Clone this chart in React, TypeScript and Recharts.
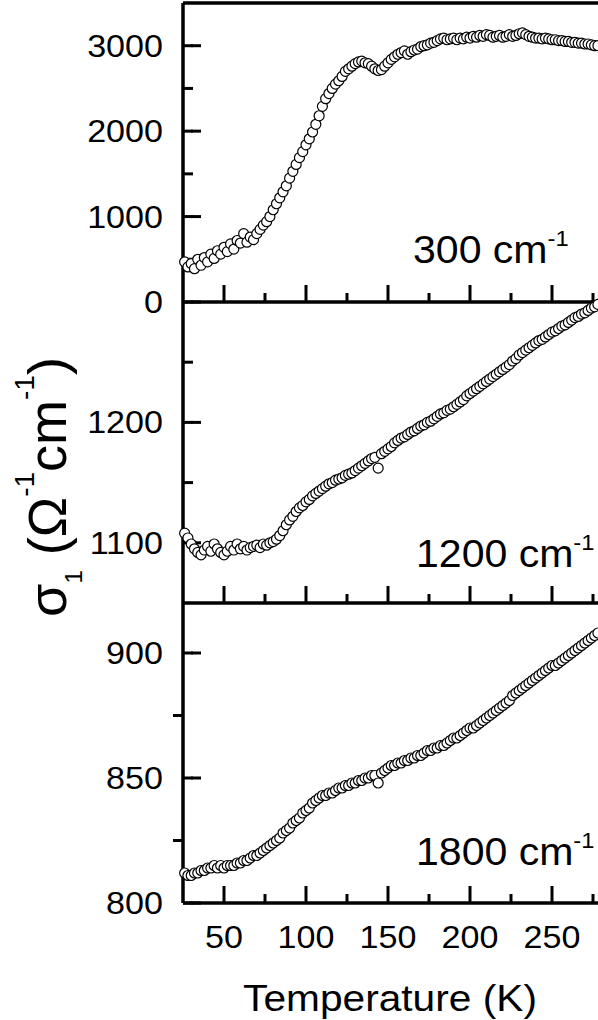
import React from 'react';
import { ScatterChart, Scatter, XAxis, YAxis, ReferenceLine } from 'recharts';

// temperature grid (K) shared by the three frequencies
const temps = [
  26, 28, 30, 32, 34, 36, 38, 40, 42, 44,
  46, 48, 50, 52, 54, 56, 58, 60, 62, 64,
  66, 68, 70, 72, 74, 76, 78, 80, 82, 84,
  86, 88, 90, 92, 94, 96, 98, 100, 102, 104,
  106, 108, 110, 112, 114, 116, 118, 120, 122, 124,
  126, 128, 130, 132, 134, 136, 138, 140, 142, 144,
  146, 148, 150, 152, 154, 156, 158, 160, 162, 164,
  166, 168, 170, 172, 174, 176, 178, 180, 182, 184,
  186, 188, 190, 192, 194, 196, 198, 200, 202, 204,
  206, 208, 210, 212, 214, 216, 218, 220, 222, 224,
  226, 228, 230, 232, 234, 236, 238, 240, 242, 244,
  246, 248, 250, 252, 254, 256, 258, 260, 262, 264,
  266, 268, 270, 272, 274, 276, 278,
];

// sigma_1 at 300 cm-1
const sigma300 = [
  470, 410, 450, 390, 500, 430, 520, 470, 560, 510,
  600, 560, 640, 590, 680, 620, 720, 690, 800, 700,
  760, 730, 800, 850, 900, 940, 1000, 1080, 1150, 1220,
  1290, 1360, 1450, 1530, 1610, 1690, 1760, 1840, 1910, 1990,
  2080, 2180, 2290, 2380, 2440, 2500, 2550, 2590, 2640, 2700,
  2730, 2760, 2790, 2810, 2820, 2800, 2790, 2760, 2730, 2710,
  2720, 2760, 2800, 2840, 2870, 2900, 2920, 2940, 2900, 2930,
  2950, 2960, 2990, 3000, 3010, 3030, 3040, 3060, 3080, 3090,
  3070, 3080, 3090, 3070, 3090, 3080, 3100, 3090, 3110, 3100,
  3120, 3110, 3130, 3120, 3100, 3110, 3120, 3100, 3110, 3130,
  3110, 3120, 3140, 3150, 3130, 3110, 3100, 3090, 3090, 3080,
  3090, 3080, 3070, 3070, 3060, 3060, 3050, 3050, 3040, 3040,
  3030, 3030, 3020, 3020, 3010, 3000, 3000,
];

// sigma_1 at 1200 cm-1
const sigma1200 = [
  1108, 1104, 1099, 1095, 1092, 1090, 1094, 1097, 1093, 1099,
  1095, 1092, 1090, 1093, 1097, 1094, 1099, 1095, 1097, 1094,
  1096, 1097, 1098, 1096, 1099, 1098, 1100, 1101, 1103, 1106,
  1110, 1115, 1119, 1122, 1126, 1129, 1131, 1134, 1136, 1139,
  1141, 1143, 1145, 1147, 1149, 1150, 1152, 1153, 1154, 1156,
  1157, 1158, 1160, 1162, 1164, 1166, 1168, 1170, 1171, 1162,
  1174, 1176, 1178, 1180, 1183, 1185, 1187, 1188, 1190, 1192,
  1193, 1195, 1197, 1198, 1200, 1201, 1203, 1205, 1207, 1208,
  1210, 1211, 1213, 1215, 1217, 1219, 1222, 1224, 1226, 1228,
  1230, 1232, 1234, 1236, 1238, 1240, 1242, 1244, 1246, 1248,
  1251, 1253, 1256, 1258, 1260, 1262, 1264, 1266, 1268, 1269,
  1271, 1273, 1275, 1276, 1278, 1280, 1281, 1283, 1285, 1287,
  1288, 1290, 1291, 1293, 1295, 1296, 1298,
];

// sigma_1 at 1800 cm-1
const sigma1800 = [
  812, 811, 811, 812, 812, 813, 813, 814, 814, 815,
  814, 815, 814, 815, 815, 815, 816, 816, 817, 817,
  818, 819, 819, 820, 821, 822, 823, 824, 825, 826,
  828, 829, 830, 832, 833, 834, 836, 837, 838, 840,
  841, 842, 843, 843, 844, 844, 845, 846, 846, 847,
  847, 848, 848, 849, 849, 850, 850, 851, 851, 848,
  852, 853, 854, 855, 855, 856, 856, 857, 857, 858,
  858, 859, 859, 860, 861, 861, 862, 862, 863, 863,
  864, 865, 866, 866, 867, 868, 869, 870, 870, 871,
  872, 873, 874, 875, 876, 877, 878, 879, 880, 881,
  883, 884, 885, 886, 887, 888, 889, 890, 891, 892,
  893, 894, 895, 895, 896, 897, 898, 899, 900, 901,
  902, 903, 904, 905, 906, 907, 908,
];

const tempMajor = [50, 100, 150, 200, 250];
const tempMinor = [75, 125, 175, 225, 275];

const major300 = [0, 1000, 2000, 3000];
const minor300 = [500, 1500, 2500];
const major1200 = [1100, 1200];
const minor1200 = [1150, 1250];
const major1800 = [800, 850, 900];
const minor1800 = [825, 875];

const FONT = '"Liberation Sans", Arial, Helvetica, sans-serif';
const STRETCH = 1.1; // the original figure is a bit wider than tall
const AXIS_W = 183;
const RIGHT_M = 26;
const CHART_W = 660;
const PLOT_W = CHART_W - AXIS_W - RIGHT_M;
const LINE_W = 3.5;
const TICK_W = 3;
const T_DOMAIN: [number, number] = [25, 300];

const toPoints = (values: number[]) => temps.map((t, i) => ({ t, v: values[i] }));

// tick-label content for a reference-line tick; vb is the segment's box
const xLabel = (value: number) => ({
  content: (p: any) => {
    const vb = p.viewBox || {};
    return (
      <g transform={`translate(${vb.x},${vb.y + vb.height + 45}) scale(${STRETCH},1)`}>
        <text x={0} y={0} textAnchor="middle" fontSize={31} fontFamily={FONT} fill="#000">
          {value}
        </text>
      </g>
    );
  },
});

const yLabel = (value: number) => ({
  content: (p: any) => {
    const vb = p.viewBox || {};
    return (
      <g transform={`translate(${vb.x - 20},${vb.y + 11}) scale(${STRETCH},1)`}>
        <text x={0} y={0} textAnchor="end" fontSize={31} fontFamily={FONT} fill="#000">
          {value}
        </text>
      </g>
    );
  },
});

const OpenCircle = (props: any) => {
  const { cx, cy } = props;
  if (cx == null || cy == null) return null;
  return <circle cx={cx} cy={cy} r={5} fill="#fff" stroke="#000" strokeWidth={1.2} />;
};

interface PanelProps {
  values: number[];
  domain: [number, number];
  major: number[];
  minor: number[];
  top: number;
  plotH: number;
  bottomAxis: boolean;
  minorOut?: boolean;
  frameTop?: boolean;
}

const Panel = ({ values, domain, major, minor, top, plotH, bottomAxis, minorOut, frameTop }: PanelProps) => {
  const marginBottom = bottomAxis ? 117 : 20;
  const height = 10 + plotH + marginBottom;
  // tick lengths given in px, turned into data units for this panel
  const dy = (px: number) => (px * (domain[1] - domain[0])) / plotH;
  const dx = (px: number) => (px * (T_DOMAIN[1] - T_DOMAIN[0])) / PLOT_W;
  const x0 = T_DOMAIN[0];
  const y0 = domain[0];
  const tickProps = { stroke: '#000', strokeWidth: TICK_W, ifOverflow: 'visible' as const };
  const frame = { stroke: '#000', strokeWidth: LINE_W, ifOverflow: 'visible' as const };
  return (
    <div style={{ position: 'absolute', left: 0, top: top - 10 }}>
      <ScatterChart
        width={CHART_W}
        height={height}
        margin={{ top: 10, right: RIGHT_M, bottom: marginBottom, left: AXIS_W }}
      >
        <XAxis type="number" dataKey="t" domain={T_DOMAIN} hide />
        <YAxis type="number" dataKey="v" domain={domain} hide />

        {/* frame: left and bottom always, top only on the first panel */}
        <ReferenceLine x={x0} {...frame} />
        <ReferenceLine y={y0} {...frame} />
        {frameTop && <ReferenceLine y={domain[1]} {...frame} />}

        {tempMajor.map((t) => (
          <ReferenceLine
            key={`xM${t}`}
            segment={[{ x: t, y: y0 }, { x: t, y: y0 + dy(17) }]}
            {...tickProps}
            label={bottomAxis ? xLabel(t) : undefined}
          />
        ))}
        {tempMinor.map((t) => (
          <ReferenceLine key={`xm${t}`} segment={[{ x: t, y: y0 }, { x: t, y: y0 + dy(9) }]} {...tickProps} />
        ))}
        {/* major y ticks in two short overlapping pieces */}
        {major.map((v) => (
          <ReferenceLine
            key={`yMa${v}`}
            segment={[{ x: x0, y: v }, { x: x0 + dx(10), y: v }]}
            {...tickProps}
            label={yLabel(v)}
          />
        ))}
        {major.map((v) => (
          <ReferenceLine
            key={`yMb${v}`}
            segment={[{ x: x0 + dx(8), y: v }, { x: x0 + dx(18), y: v }]}
            {...tickProps}
          />
        ))}
        {minor.map((v) => (
          <ReferenceLine
            key={`ym${v}`}
            segment={[{ x: x0, y: v }, { x: minorOut ? x0 - dx(10) : x0 + dx(10), y: v }]}
            {...tickProps}
          />
        ))}

        <Scatter data={toPoints(values)} isAnimationActive={false} shape={OpenCircle} />
      </ScatterChart>
    </div>
  );
};

const PanelLabel = ({ x, y, text }: { x: number; y: number; text: string }) => (
  <g transform={`translate(${x},${y}) scale(1.08,1)`}>
    <text x={0} y={0} fontSize={38} fontFamily={FONT} fill="#000">
      {text}
      <tspan fontSize={22} dy={-17}>-1</tspan>
    </text>
  </g>
);

export default function App() {
  return (
    <div
      style={{
        position: 'absolute',
        left: 0,
        top: 0,
        width: 598,
        height: 1020,
        overflow: 'hidden',
        background: '#fff',
      }}
    >
      <Panel values={sigma300} domain={[0, 3500]} major={major300} minor={minor300}
        top={3} plotH={299} bottomAxis={false} frameTop />
      <Panel values={sigma1200} domain={[1050, 1300]} major={major1200} minor={minor1200}
        top={302} plotH={301} bottomAxis={false} />
      <Panel values={sigma1800} domain={[800, 920]} major={major1800} minor={minor1800}
        top={603} plotH={300} bottomAxis minorOut />

      <svg
        width={598}
        height={1020}
        style={{ position: 'absolute', left: 0, top: 0, pointerEvents: 'none' }}
      >
        <PanelLabel x={413} y={263} text="300 cm" />
        <PanelLabel x={416} y={567} text="1200 cm" />
        <PanelLabel x={416} y={865} text="1800 cm" />

        <g transform="translate(390,1011) scale(1.13,1)">
          <text x={0} y={0} textAnchor="middle" fontSize={36} fontFamily={FONT} fill="#000">
            Temperature (K)
          </text>
        </g>

        <text
          transform="translate(66,487) rotate(-90)"
          textAnchor="middle"
          fontSize={54}
          fontFamily={FONT}
          fill="#000"
        >
          <tspan>σ</tspan>
          <tspan fontSize={24} dy={16}>1</tspan>
          <tspan dy={-16}> (Ω</tspan>
          <tspan fontSize={28} dy={-32}>-1</tspan>
          <tspan dy={32}>cm</tspan>
          <tspan fontSize={28} dy={-32}>-1</tspan>
          <tspan dy={32}>)</tspan>
        </text>
      </svg>
    </div>
  );
}
